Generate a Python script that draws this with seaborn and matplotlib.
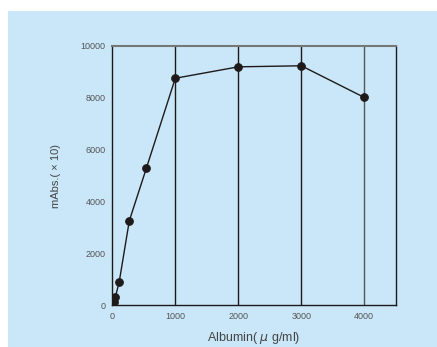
import numpy as np
import seaborn as sns
import matplotlib.pyplot as plt
import pandas as pd
from matplotlib.patches import Rectangle

# values
albumin = [25, 50, 110, 270, 540, 1000, 2000, 3000, 4000]
mabs = [115, 330, 910, 3260, 5280, 8750, 9190, 9230, 8010]
xticks = [0, 1000, 2000, 3000, 4000]
yticks = [0, 2000, 4000, 6000, 8000, 10000]

bg = '#c9e7f8'

sns.set_style('white')
plt.rcParams['font.family'] = ['Liberation Sans', 'DejaVu Sans']

fig = plt.figure(figsize=(4.37, 3.47), dpi=100)
fig.patch.set_facecolor('white')
fig.patches.append(Rectangle((8 / 437, 0), 1, 1 - 11 / 347, transform=fig.transFigure,
                             facecolor=bg, edgecolor='none', zorder=-10))

ax = fig.add_axes([0.257, 0.120, 0.6487, 0.748])
ax.set_facecolor(bg)

df = pd.DataFrame({'x': albumin, 'y': mabs})

# vertical grid lines
for xv in xticks[1:]:
    ax.axvline(xv, color='#1e1a1a' if xv < 4000 else '#555555', lw=1.0, zorder=1)

sns.lineplot(data=df, x='x', y='y', ax=ax, color='#1e1a1a', lw=1.0,
             marker='o', markersize=5.5, markeredgecolor='#1e1a1a',
             markerfacecolor='#1e1a1a', zorder=3)

ax.set_xlim(0, 4500)
ax.set_ylim(0, 10000)
ax.set_xticks(xticks)
ax.set_yticks(yticks)
ax.tick_params(length=0, labelsize=6.5, labelcolor='#555555', pad=5)

for s in ['left', 'right', 'bottom']:
    ax.spines[s].set_color('#1e1a1a')
    ax.spines[s].set_linewidth(1.0)
ax.spines['top'].set_color('#777777')
ax.spines['top'].set_linewidth(1.5)

ax.set_xlabel('Albumin( $\\mu$ g/ml)', fontsize=9, color='#444444', labelpad=6)
ax.set_ylabel('mAbs.( \u00d7 10)', fontsize=8, color='#444444', labelpad=14)

fig.savefig('out.png', dpi=100, facecolor=fig.get_facecolor())
